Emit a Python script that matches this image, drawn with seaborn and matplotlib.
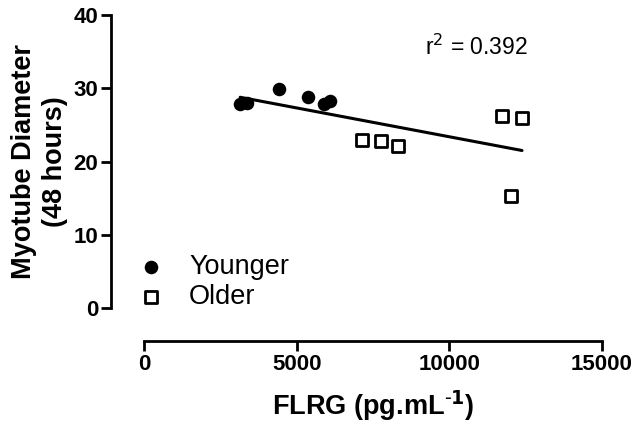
import numpy as np
import pandas as pd
import matplotlib
matplotlib.use("Agg")
import matplotlib.pyplot as plt
import seaborn as sns

# Datos
younger_flrg = [3150, 3370, 4420, 5370, 5890, 6090]
younger_diam = [27.9, 28.0, 29.9, 28.8, 27.8, 28.2]
older_flrg = [7140, 7760, 8320, 11720, 12380, 12020]
older_diam = [23.0, 22.8, 22.1, 26.2, 26.0, 15.3]
group_labels = ["Younger", "Older"]
x_ticks = [0, 5000, 10000, 15000]
y_ticks = [0, 10, 20, 30, 40]
r2_text = "r$^2$ = 0.392"

df = pd.DataFrame({
    "FLRG": younger_flrg + older_flrg,
    "Diameter": younger_diam + older_diam,
    "Group": [group_labels[0]] * len(younger_flrg) + [group_labels[1]] * len(older_flrg),
})

sns.set_style("ticks")
plt.rcParams["font.family"] = ["Liberation Sans", "DejaVu Sans"]
for k in ["text.color", "axes.labelcolor", "xtick.color", "ytick.color", "axes.edgecolor"]:
    plt.rcParams[k] = "black"

fig = plt.figure(figsize=(6.38, 4.32), dpi=100)
ax = fig.add_axes([144 / 638, 1 - 308 / 432, 458 / 638, 293 / 432])

# línea de regresión sobre todos los puntos
sns.regplot(data=df, x="FLRG", y="Diameter", ax=ax, scatter=False, ci=None,
            color="black", line_kws={"lw": 2.2})

sub_y = df[df["Group"] == "Younger"]
sub_o = df[df["Group"] == "Older"]
sns.scatterplot(data=sub_y, x="FLRG", y="Diameter", ax=ax, marker="o", s=95,
                color="black", edgecolor="black", linewidth=0, label="Younger", zorder=3)
sns.scatterplot(data=sub_o, x="FLRG", y="Diameter", ax=ax, marker="s", s=85,
                facecolor="white", edgecolor="black", linewidth=2, label="Older", zorder=3)

ax.set_xlim(0, 15000)
ax.set_ylim(0, 40)
ax.set_xticks(x_ticks)
ax.set_yticks(y_ticks)

sns.despine(ax=ax, offset={"left": 24, "bottom": 24})
for sp in ["left", "bottom"]:
    ax.spines[sp].set_linewidth(2)
ax.tick_params(axis="both", width=2, length=7, labelsize=16, pad=2)
for lab in ax.get_xticklabels() + ax.get_yticklabels():
    lab.set_fontweight("bold")

ax.set_xlabel("FLRG (pg.mL$^{\\mathbf{\\text{-}1}}$)", fontsize=19.5, fontweight="bold", labelpad=10)
ax.set_ylabel("Myotube Diameter\n(48 hours)", fontsize=19.5, fontweight="bold", labelpad=4,
              linespacing=1.25)

ax.text(425 / 638, 1 - 47 / 432, r2_text, transform=fig.transFigure, fontsize=16.5,
        ha="left", va="center")

leg = ax.legend(loc="center left", bbox_to_anchor=(135 / 638, 1 - 282 / 432),
                bbox_transform=fig.transFigure, frameon=False, fontsize=19.5,
                handlelength=1.2, handletextpad=0.8, labelspacing=0.14,
                borderpad=0, borderaxespad=0)

fig.savefig("out.png", dpi=100)
